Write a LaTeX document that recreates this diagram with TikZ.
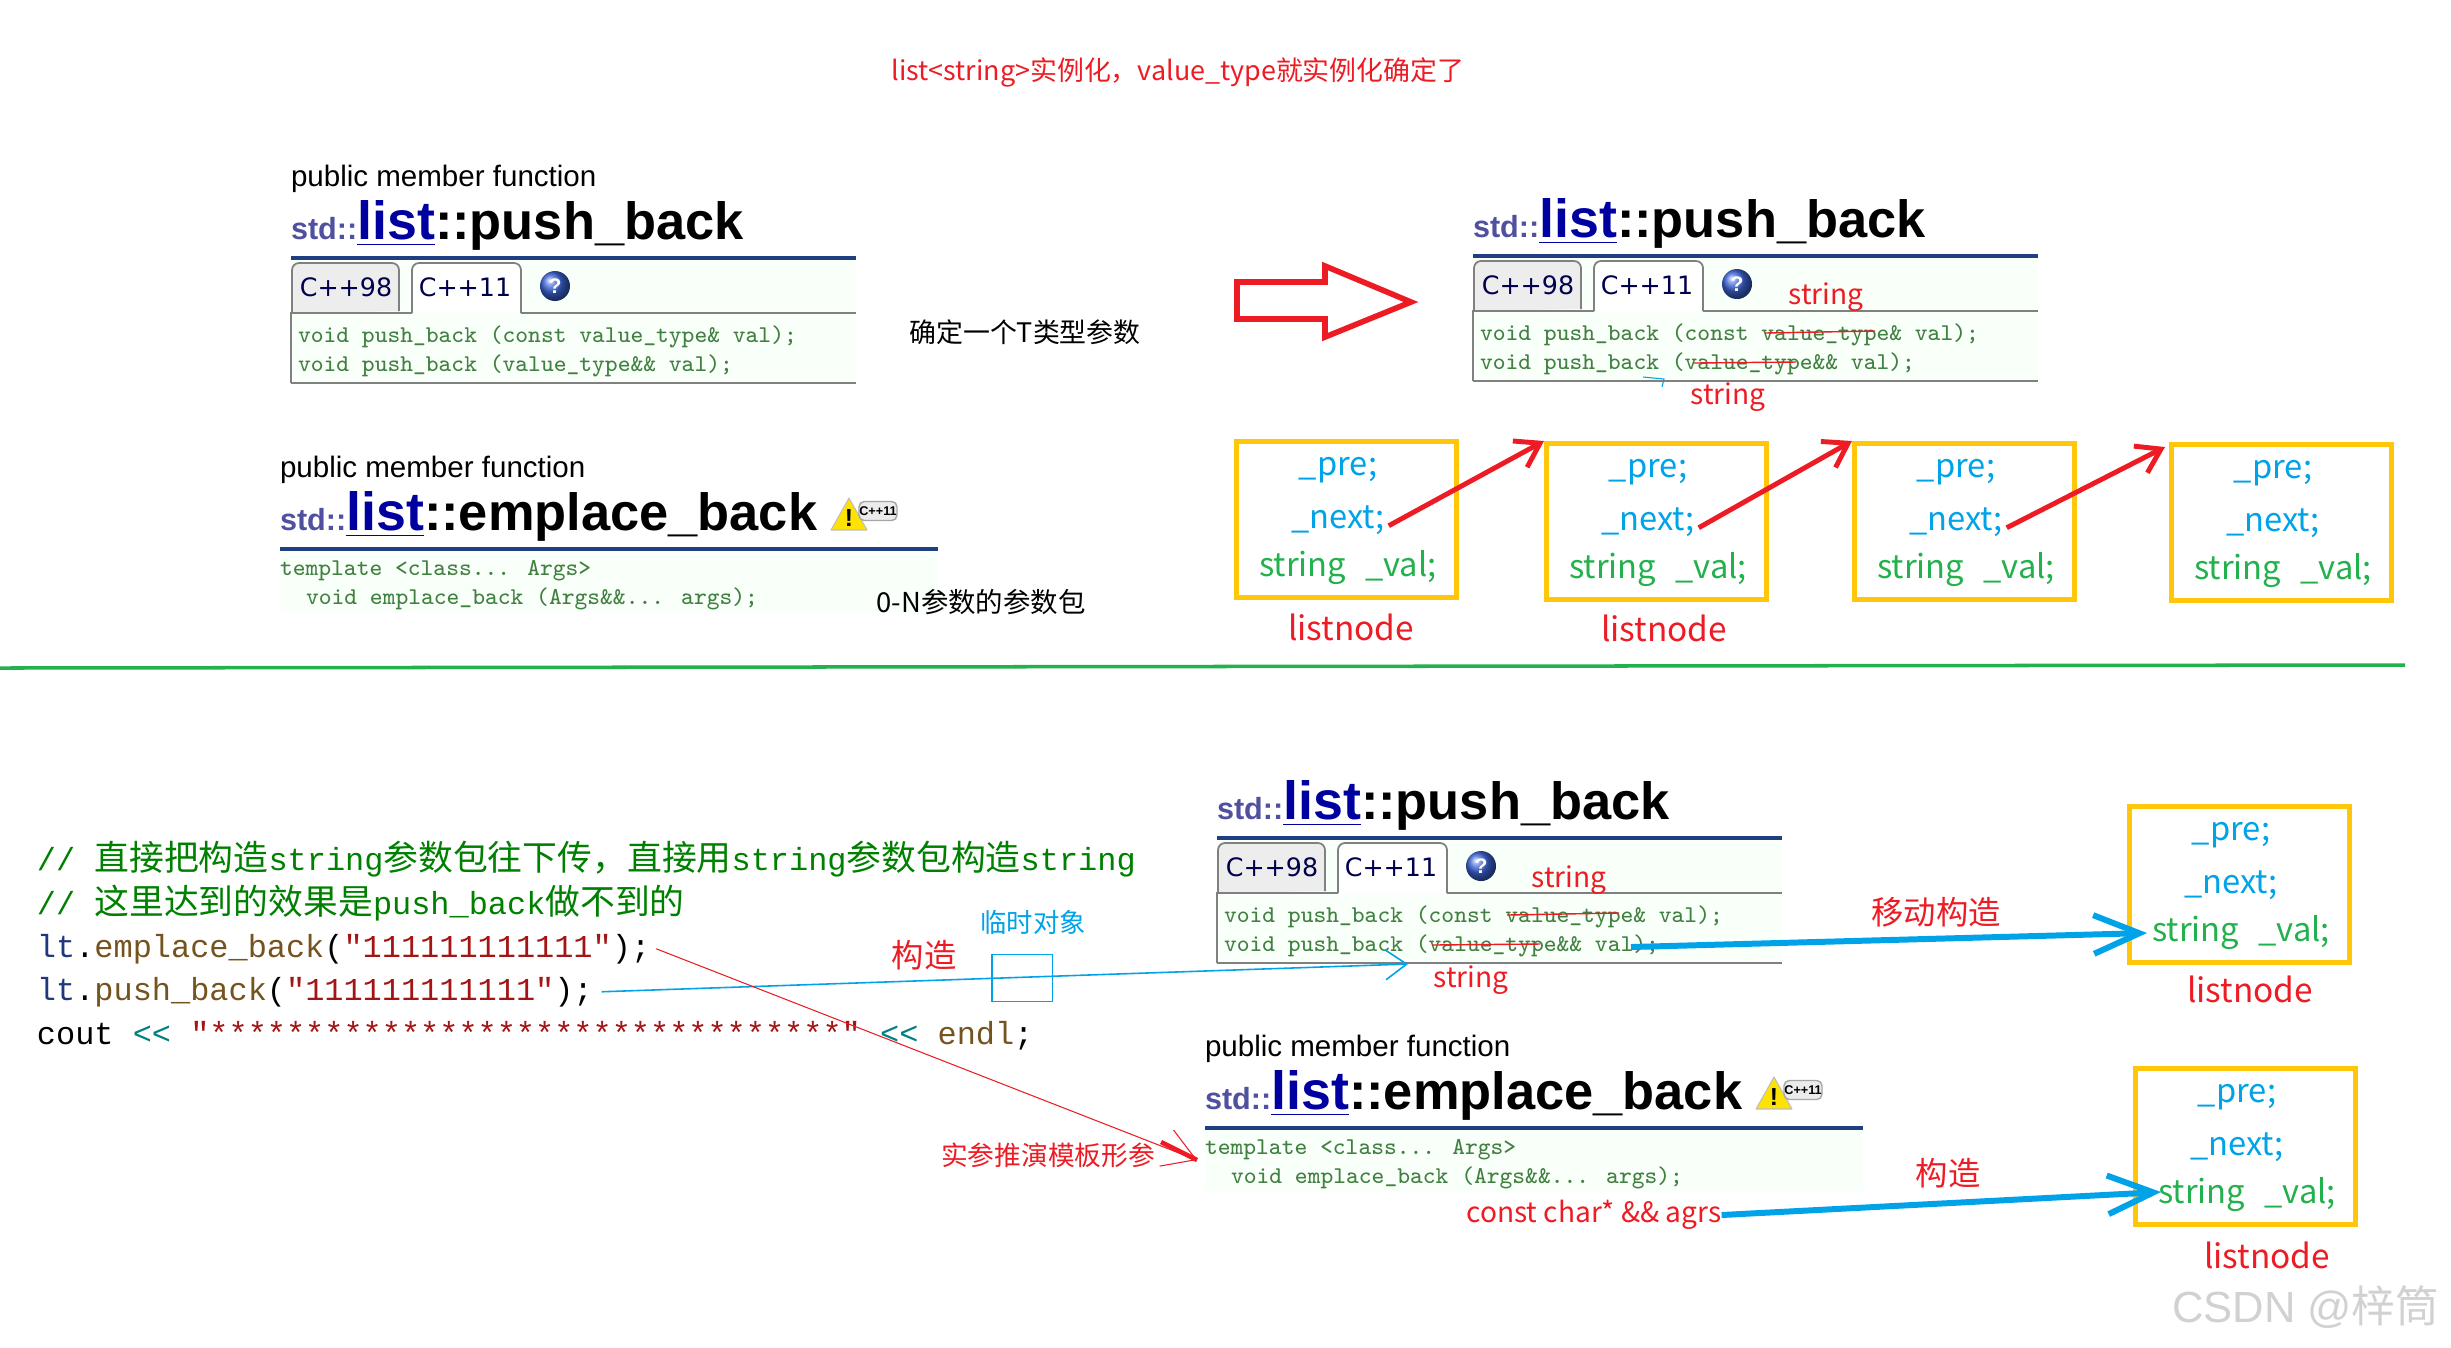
\documentclass[tikz,border=0pt]{standalone}
\usepackage{fontspec}
\setmainfont{Noto Sans CJK SC}
\newfontfamily\arialf{Liberation Sans}
\newfontfamily\tabf{DejaVu Sans}
\newfontfamily\codef{Liberation Mono}
\usetikzlibrary{arrows.meta, calc}
\definecolor{mred}{RGB}{237,28,36}
\definecolor{mblue}{RGB}{0,162,232}
\definecolor{mgreen}{RGB}{34,177,76}
\definecolor{myellow}{RGB}{255,198,10}
\definecolor{docgreen}{RGB}{64,128,64}
\definecolor{docbg}{RGB}{249,255,249}
\definecolor{navyrule}{RGB}{31,63,128}
\definecolor{stdblue}{RGB}{80,80,160}
\definecolor{listblue}{RGB}{0,0,160}
\definecolor{helpblue}{RGB}{60,100,215}
\definecolor{vsbrown}{RGB}{116,83,31}
\definecolor{vsred}{RGB}{163,21,21}
\definecolor{vsblue}{RGB}{31,55,127}
\definecolor{vsteal}{RGB}{0,128,128}
\definecolor{vsgreen}{RGB}{0,128,0}
\newcommand{\fs}[1]{\fontsize{#1}{#1}\selectfont}
\newcommand{\cj}[1]{{\fontsize{9.9}{10}\rmfamily #1}}

% title line of a reference panel
\newcommand{\cpptitle}[2]{%
  \node[plain,anchor=base west,font=\arialf\bfseries\fs{8.7},text=stdblue] (#1std) at (0,-19) {std::};
  \node[plain,anchor=base west,font=\arialf\bfseries\fs{15.3},text=listblue] (#1list) at (#1std.base east) {\underline{list}};
  \node[plain,anchor=base west,font=\arialf\bfseries\fs{14.9}] (#1name) at (#1list.base east) {#2};
}
% push_back panel
\newcommand{\pushpanel}[1]{%
  \fill[docbg] (0,0) rectangle (565,125);
  \cpptitle{#1}{::push\_back}
  \draw[navy] (0,0) -- (565,0);
  \draw[tabedge,fill=black!7,rounded corners=2pt] (1,55) -- (1,5) -- (108,5) -- (108,53);
  \draw[tabedge,fill=white,rounded corners=2pt] (121,55) -- (121,5) -- (230,5) -- (230,55);
  \draw[tabedge] (0,125) -- (0,55) -- (121,55) (230,55) -- (565,55);
  \draw[tabedge] (0,125) -- (565,125);
  \node[tabtxt] (#1old) at (55,29) {C++98};
  \node[tabtxt] (#1new) at (174,29) {C++11};
  \node[qball] (#1help) at (264,28) {?};
  \node[doc] (#1codeA) at (7,84) {void push\_back (const value\_type\& val);};
  \node[doc] (#1codeB) at (7,113) {void push\_back (value\_type\&\& val);};
}
% emplace_back panel
\newcommand{\emplacepanel}[1]{%
  \fill[docbg] (0,0) rectangle (658,63);
  \node[pub] (#1pub) at (0,-72) {public member function};
  \cpptitle{#1}{::emplace\_back}
  \draw[navy] (0,0) -- (658,0);
  \fill[yellow!85!orange,draw=black!25,line width=0.3pt,line join=round] (569,-51) -- (587,-19) -- (551,-19) -- cycle;
  \node[plain,font=\arialf\bfseries\fs{7}] (#1warn) at (569,-31) {!};
  \node[badge] (#1badge) at (598,-38) {C++11};
  \node[doc] (#1codeA) at (0,26) {template <class... Args>};
  \node[doc] (#1codeB) at (26,55) {void emplace\_back (Args\&\&... args);};
}
% one list node
\newcommand{\listcell}[3]{%
  \node[cell] (#1) at (#2,#3) {};
  \node[cellblue] (#1pre) at ($(#1.north west)+(104,36)$) {\_pre;};
  \node[cellblue] (#1next) at ($(#1.north west)+(104,89)$) {\_next;};
  \node[cellgreen] (#1val) at ($(#1.north west)+(114,137)$) {string\hspace{0.36em}\ \_val;};
}

\begin{document}
\begin{tikzpicture}[x=0.01cm,y=-0.01cm,
  plain/.style={inner sep=0pt,outer sep=0pt},
  pub/.style={plain,anchor=base west,font=\arialf\fs{8.4}},
  navy/.style={navyrule,line width=1pt},
  tabedge/.style={black!50,line width=0.5pt},
  tabtxt/.style={plain,font=\tabf\fs{7.2},text=blue!30!black},
  qball/.style={circle,shading=ball,ball color=helpblue,minimum size=0.3cm,inner sep=0pt,
                text=white,font=\arialf\bfseries\fs{6}},
  doc/.style={plain,anchor=base west,font=\ttfamily\fs{6.85},text=docgreen},
  badge/.style={draw=black!35,fill=black!8,rounded corners=1.5pt,minimum width=0.38cm,minimum height=0.19cm,
                inner sep=0pt,font=\arialf\bfseries\fs{3.6}},
  cell/.style={draw=myellow,line width=1.3pt,minimum width=2.2cm,minimum height=1.56cm,anchor=north west,inner sep=0pt},
  cellblue/.style={plain,anchor=base,font=\fs{9.3},text=mblue},
  cellgreen/.style={plain,anchor=base,font=\fs{9.3},text=mgreen},
  redtxt/.style={plain,text=mred,font=\fs{9.2}},
  redsmall/.style={plain,text=mred,font=\fs{8}},
  blacktxt/.style={plain,font=\fs{7.65}},
  code/.style={plain,anchor=base west,font=\codef\fs{9.08}},
  strike/.style={mred,line width=0.4pt},
  redarr/.style={-{Straight Barb[length=6.5pt,width=8.5pt]},mred,line width=1.4pt},
  bluearr/.style={-{Straight Barb[length=13pt,width=11pt]},mblue,line width=1.7pt},
  thinblue/.style={-{Straight Barb[length=6pt,width=8.5pt]},mblue,line width=0.45pt},
  thinred/.style={-{Straight Barb[length=9pt,width=11pt]},mred,line width=0.3pt}
]
\useasboundingbox (0,0) rectangle (2451,1347);

% Top caption
\node[plain,anchor=base,text=mred,font=\fs{7.65}] (caption) at (1178,80) {list<string>实例化，value\_type就实例化确定了};

% Reference panels, upper half
\node[pub] (pubA) at (291,186) {public member function};
\begin{scope}[shift={(291,258)}]
\pushpanel{pushA}
\end{scope}
\begin{scope}[shift={(1473,256)}]
\pushpanel{pushB}
\draw[strike] (292,77) -- (402,75);
\draw[strike] (221,107) -- (323,106);
\end{scope}
\begin{scope}[shift={(280,549)}]
\emplacepanel{empA}
\end{scope}
\node[blacktxt] (onearg) at (1025,332) {确定一个T类型参数};
\node[blacktxt,font=\fs{7.8}] (packarg) at (981,602) {0-N参数的参数包};
\node[redsmall] (strTop) at (1826,297) {string};
\node[redsmall] (strBot) at (1728,397) {string};
\draw[mblue,line width=0.3pt] (1643,377) -- (1664,379) -- (1662,387);

% Hollow arrow
\draw[mred,line width=1.6pt,miter limit=4] (1237,282) -- (1325,282) -- (1325,266) -- (1411,302)
  -- (1325,337) -- (1325,319) -- (1237,319) -- cycle;

% List nodes, upper half
\listcell{cellA}{1234}{439}
\listcell{cellB}{1544}{441}
\listcell{cellC}{1852}{441}
\listcell{cellD}{2169}{442}
\node[redtxt,font=\fs{9.5},anchor=base] (labA) at (1351,640) {listnode};
\node[redtxt,font=\fs{9.5},anchor=base] (labB) at (1664,641) {listnode};
\draw[redarr] ([xshift=0.04cm,yshift=-0.06cm]cellAnext.east) -- (cellB.north west);
\draw[redarr] ([xshift=0.04cm,yshift=-0.06cm]cellBnext.east) -- (cellC.north west);
\draw[redarr] ([xshift=0.04cm,yshift=-0.06cm]cellCnext.east) -- ([xshift=-0.04cm,yshift=-0.05cm]cellD.north west);

% Divider
\coordinate (divL) at (0,668);
\coordinate (divR) at (2405,665);
\draw[mgreen,line width=1pt] (divL) -- (divR);

% Code on the left
\node[code,text=vsgreen] (cmtA) at (37,870) {// \cj{直接把构造}string\cj{参数包往下传，直接用}string\cj{参数包构造}string};
\node[code,text=vsgreen] (cmtB) at (37,914) {// \cj{这里达到的效果是}push\_back\cj{做不到的}};
\node[code] (lineA) at (37,957) {\textcolor{vsblue}{lt}.\textcolor{vsbrown}{emplace\_back}(\textcolor{vsred}{"111111111111"});};
\node[code] (lineB) at (37,1000) {\textcolor{vsblue}{lt}.\textcolor{vsbrown}{push\_back}(\textcolor{vsred}{"111111111111"});};
\node[code] (lineC) at (37,1044) {cout \textcolor{vsteal}{<{}<} \textcolor{vsred}{"*********************************"} \textcolor{vsteal}{<{}<} \textcolor{vsbrown}{endl};};

% Reference panels, lower half
\begin{scope}[shift={(1217,838)}]
\pushpanel{pushC}
\draw[strike] (290,77) -- (402,75);
\draw[strike] (215,107) -- (323,106);
\end{scope}
\begin{scope}[shift={(1205,1128)}]
\emplacepanel{empB}
\end{scope}
\node[redsmall] (strC) at (1569,880) {string};
\node[redsmall] (strD) at (1471,980) {string};

% Labels in the lower half
\node[redtxt] (ctorA) at (924,955) {构造};
\node[plain,text=mblue,font=\fs{7.5}] (tempobj) at (1033,922) {临时对象};
\node[draw=mblue,line width=0.3pt,minimum width=0.6cm,minimum height=0.47cm,inner sep=0pt] (tempbox) at (1022,978) {};
\node[redtxt,font=\fs{7.6}] (deduce) at (1048,1155) {实参推演模板形参};
\node[redtxt] (moveCtor) at (1936,912) {移动构造};
\node[redtxt] (ctorB) at (1948,1173) {构造};
\node[redsmall,font=\fs{8}] (args) at (1594,1215) {const char* \&\& agrs};

% List nodes, lower half
\listcell{cellE}{2127}{804}
\listcell{cellF}{2133}{1066}
\node[redtxt,font=\fs{9.5},anchor=base] (labE) at (2250,1002) {listnode};
\node[redtxt,font=\fs{9.5},anchor=base] (labF) at (2267,1268) {listnode};

% Connectors, lower half
\coordinate (tempTip) at (1408,964);
\coordinate (deduceTip) at (1197,1160);
\coordinate (deduceFat) at (1161,1142);
\coordinate (moveFrom) at (1631,947);
\coordinate (moveTo) at (2147,933);
\coordinate (ctorTo) at (2161,1192);
\draw[thinblue] ([xshift=0.09cm]lineB.east) -- (tempTip);
\draw[thinred] ([xshift=0.06cm]lineA.east) -- (deduceTip);
\draw[mred,line width=1.3pt] (deduceFat) -- (deduceTip);
\draw[bluearr] (moveFrom) -- (moveTo);
\draw[bluearr] (args.east) -- (ctorTo);

% Watermark
\node[plain,anchor=base west,text=black!18,font=\arialf\fs{12.4}] (mark) at (2172,1322) {CSDN @{\rmfamily 梓筒}};
\end{tikzpicture}
\end{document}
